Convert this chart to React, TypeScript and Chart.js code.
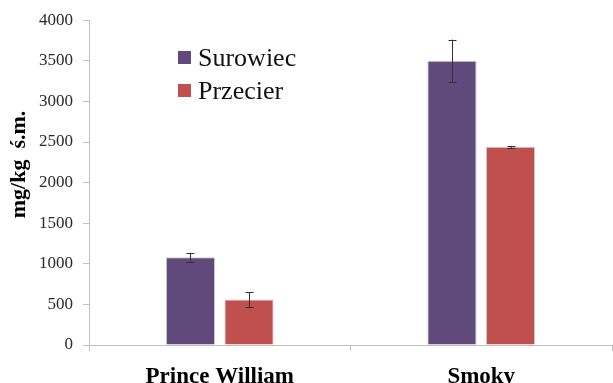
import React, { useEffect, useRef } from "react";
import { Chart, registerables } from "chart.js";

Chart.register(...registerables);

const categories = ["Prince William", "Smoky"];
const seriesNames = ["Surowiec", "Przecier"];
const surowiec = [1080, 3500];
const przecier = [560, 2440];
const surowiecErr = [55, 260];
const przecierErr = [90, 12];
const seriesColors = ["#604A7B", "#C0504D"];
const yTicksMax = 4000;
const yTickStep = 500;
const yTitle = "mg/kg  ś.m.";

const SERIF = "\"Liberation Serif\", serif";

const errorBarPlugin = {
  id: "errorBars",
  afterDatasetsDraw(chart: any) {
    const ctx = chart.ctx;
    const yScale = chart.scales.y;
    const errs = [surowiecErr, przecierErr];
    ctx.save();
    ctx.strokeStyle = "#3a2a3a";
    ctx.lineWidth = 1;
    chart.data.datasets.forEach((ds: any, i: number) => {
      const meta = chart.getDatasetMeta(i);
      meta.data.forEach((el: any, j: number) => {
        const v = ds.data[j];
        const e = errs[i][j];
        const x = Math.round(el.x) + 0.5;
        const yt = yScale.getPixelForValue(v + e);
        const yb = yScale.getPixelForValue(v - e);
        ctx.beginPath();
        ctx.moveTo(x, yt);
        ctx.lineTo(x, yb);
        ctx.moveTo(x - 4, Math.round(yt) + 0.5);
        ctx.lineTo(x + 4, Math.round(yt) + 0.5);
        ctx.moveTo(x - 4, Math.round(yb) + 0.5);
        ctx.lineTo(x + 4, Math.round(yb) + 0.5);
        ctx.stroke();
      });
    });
    ctx.restore();
  },
};

const customLegendPlugin = {
  id: "customLegend",
  afterDraw(chart: any) {
    const ctx = chart.ctx;
    const x0 = 178;
    const y0 = 51;
    const rowH = 33;
    ctx.save();
    ctx.font = `26px ${SERIF}`;
    ctx.textBaseline = "alphabetic";
    ctx.textAlign = "left";
    chart.data.datasets.forEach((ds: any, i: number) => {
      const y = y0 + i * rowH;
      ctx.fillStyle = ds.backgroundColor;
      ctx.fillRect(x0, y, 13, 13);
      ctx.fillStyle = "#111";
      ctx.fillText(ds.label, x0 + 20, y + 15);
    });
    ctx.restore();
  },
};

const yTitlePlugin = {
  id: "yTitle",
  afterDraw(chart: any) {
    const ctx = chart.ctx;
    ctx.save();
    ctx.translate(19, 164.5);
    ctx.rotate(-Math.PI / 2);
    ctx.font = `bold 22px ${SERIF}`;
    ctx.fillStyle = "#000";
    ctx.textAlign = "center";
    ctx.textBaseline = "middle";
    ctx.fillText(yTitle, 0, 0);
    ctx.restore();
  },
};

export default function App() {
  const ref = useRef<HTMLCanvasElement | null>(null);

  useEffect(() => {
    document.body.style.margin = "0";
    if (!ref.current) return;
    const chart = new Chart(ref.current, {
      type: "bar",
      data: {
        labels: categories,
        datasets: [
          {
            label: seriesNames[0],
            data: surowiec,
            backgroundColor: seriesColors[0],
            borderColor: "rgba(200,200,200,0.9)",
            borderWidth: 1,
            categoryPercentage: 0.448,
            barPercentage: 0.84,
          },
          {
            label: seriesNames[1],
            data: przecier,
            backgroundColor: seriesColors[1],
            borderColor: "rgba(200,200,200,0.9)",
            borderWidth: 1,
            categoryPercentage: 0.448,
            barPercentage: 0.84,
          },
        ],
      },
      options: {
        responsive: false,
        animation: false,
        layout: { padding: { top: 20, right: 1, left: 0, bottom: 0 } },
        plugins: {
          legend: { display: false },
          tooltip: { enabled: false },
        },
        scales: {
          x: {
            type: "category",
            offset: true,
            grid: {
              offset: true,
              drawOnChartArea: false,
              drawTicks: true,
              tickLength: 6,
              color: "#bfbfbf",
            },
            border: { color: "#bfbfbf" },
            ticks: {
              color: "#000",
              padding: 12,
              font: { family: SERIF, size: 23, weight: "bold" },
            },
            afterFit(scale: any) {
              scale.height = 38;
            },
          },
          y: {
            min: 0,
            max: yTicksMax,
            ticks: {
              stepSize: yTickStep,
              color: "#2a2a2a",
              padding: 10,
              font: { family: SERIF, size: 17 },
              callback: (v: any) => String(v),
            },
            grid: {
              drawOnChartArea: false,
              drawTicks: true,
              tickLength: 6,
              color: "#bfbfbf",
            },
            border: { color: "#bfbfbf" },
            afterFit(scale: any) {
              scale.width = 89;
            },
          },
        },
      } as any,
      plugins: [errorBarPlugin, customLegendPlugin, yTitlePlugin],
    });
    return () => chart.destroy();
  }, []);

  return (
    <div style={{ position: "fixed", left: 0, top: 0, width: 613, height: 383, background: "#fff" }}>
      <canvas ref={ref} width={613} height={383} />
    </div>
  );
}
